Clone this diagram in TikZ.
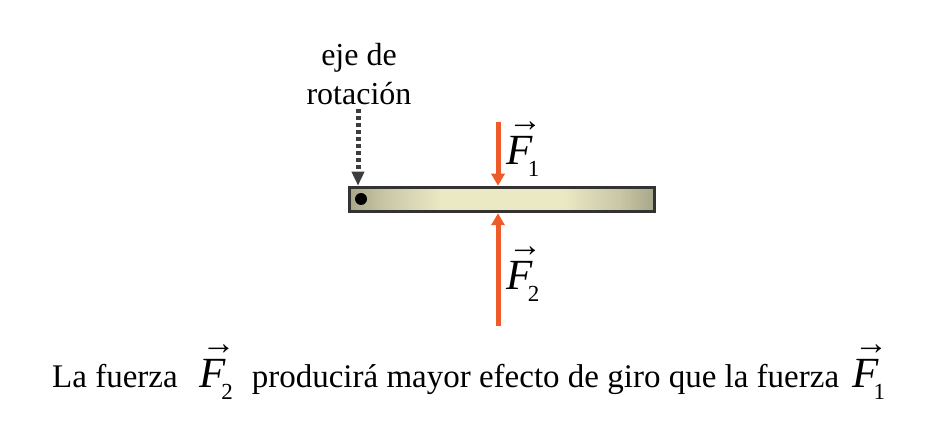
\documentclass[tikz,border=0pt]{standalone}
\usepackage{amsmath}
\usepackage{fontspec}
\setmainfont{Liberation Serif}
\usetikzlibrary{arrows.meta, positioning, calc}
\definecolor{fuerzacol}{HTML}{EE5A28}
\definecolor{bordecol}{HTML}{333333}
\definecolor{olivocol}{HTML}{A8A78A}
\definecolor{clarocol}{HTML}{FCFAD2}
\pgfdeclarehorizontalshading{barraluz}{100bp}{color(0bp)=(olivocol);
  color(25bp)=(olivocol); color(31bp)=(olivocol!50!clarocol);
  color(40bp)=(clarocol); color(60bp)=(clarocol); color(69bp)=(olivocol!50!clarocol);
  color(75bp)=(olivocol); color(100bp)=(olivocol)}
\newcommand{\vecF}[1]{{\fontsize{43}{43}\selectfont\makebox[0pt][l]{\hspace{2pt}\raisebox{33pt}{\fontsize{34}{34}\selectfont →}}\textit{F}\hspace{-5pt}\raisebox{-12pt}{\fontsize{23}{23}\selectfont #1}}}
\tikzset{
  fuerza/.style={line width=5pt, draw=fuerzacol,
                 -{Triangle[length=12pt, width=13pt]}},
  ejeflecha/.style={line width=5pt, draw=bordecol!95, dash pattern=on 4pt off 3pt,
                    -{Triangle[length=14pt, width=12pt]}},
  barra/.style={draw=bordecol, line width=3.5pt, minimum width=305pt,
                minimum height=24pt, inner sep=0pt},
  rotulo/.style={font=\fontsize{32}{39}\selectfont, align=center, inner sep=0pt},
  etiqueta/.style={inner sep=0pt, anchor=base west}
}
\begin{document}
\begin{tikzpicture}[x=1pt, y=-1pt]
  \useasboundingbox (0,0) rectangle (933,430);

  % barra con degradado
  \node[barra, path picture={
      \shade[shading=barraluz]
        (path picture bounding box.south west) rectangle (path picture bounding box.north east);
      \shade[top color=olivocol, middle color=clarocol, bottom color=olivocol, opacity=0.2]
        (path picture bounding box.south west) rectangle (path picture bounding box.north east);
    }] (bar) at (502,199.5) {};
  \node[circle, fill=black, inner sep=0pt, minimum size=12pt] (pivote) at (361,199) {};

  % eje de rotacion
  \node[rotulo] (ejetxt) at (359,74) {eje de\\rotación};
  \coordinate (ejeini) at (358,109);
  \draw[ejeflecha] (ejeini) -- (ejeini |- bar.north);

  % fuerzas
  \coordinate (f1ini) at (498,122);
  \coordinate (f2ini) at (498,326);
  \draw[fuerza] (f1ini) -- (f1ini |- bar.north);
  \draw[fuerza] (f2ini) -- (f2ini |- bar.south);
  \node[etiqueta] (fone) at (506,165) {\vecF{1}};
  \node[etiqueta] (ftwo) at (506,289) {\vecF{2}};

  % texto inferior
  \node[etiqueta, font=\fontsize{33}{40}\selectfont] (frase) at (52,387)
    {La fuerza\hspace{22pt}\vecF{2}\hspace{19pt}producirá mayor efecto de giro que la fuerza\hspace{13pt}\vecF{1}};
\end{tikzpicture}
\end{document}
